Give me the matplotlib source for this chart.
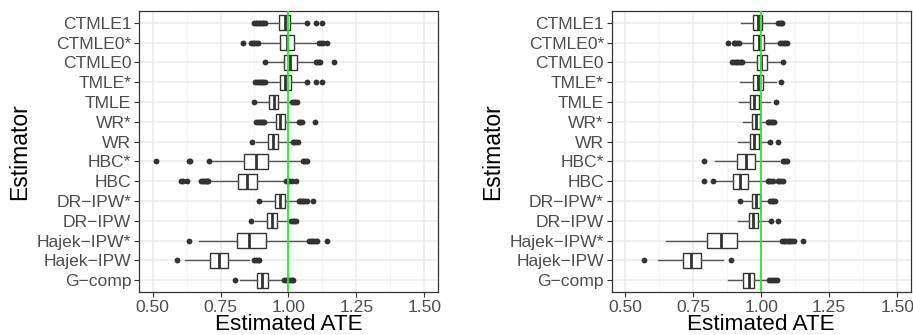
import numpy as np
import matplotlib
matplotlib.use("Agg")
import matplotlib.pyplot as plt
from matplotlib.ticker import MultipleLocator

plt.rcParams['font.family'] = ['Liberation Sans', 'DejaVu Sans']

# estimators, top to bottom as shown
estimators = ["CTMLE1", "CTMLE0*", "CTMLE0", "TMLE*", "TMLE", "WR*", "WR",
              "HBC*", "HBC", "DR\u2212IPW*", "DR\u2212IPW", "Hajek\u2212IPW*",
              "Hajek\u2212IPW", "G\u2212comp"]

# left panel: box stats
left_lo = [0.918, 0.890, 0.921, 0.918, 0.884, 0.912, 0.882,
           0.720, 0.707, 0.902, 0.878, 0.671, 0.618, 0.823]
left_q1 = [0.967, 0.970, 0.985, 0.970, 0.928, 0.954, 0.926,
           0.838, 0.813, 0.951, 0.922, 0.810, 0.711, 0.884]
left_med = [0.988, 0.996, 1.006, 0.989, 0.945, 0.970, 0.943,
            0.882, 0.849, 0.968, 0.940, 0.856, 0.743, 0.904]
left_q3 = [1.007, 1.022, 1.030, 1.009, 0.963, 0.988, 0.963,
           0.923, 0.884, 0.988, 0.959, 0.916, 0.777, 0.926]
left_hi = [1.061, 1.100, 1.098, 1.061, 1.012, 1.034, 1.012,
           1.048, 0.979, 1.033, 1.006, 1.072, 0.856, 0.982]
left_out = [
    [0.874, 0.879, 0.884, 0.89, 0.896, 0.902, 0.908, 0.913, 1.067, 1.101, 1.124],
    [0.832, 0.863, 0.869, 0.875, 0.881, 0.887, 1.113, 1.12, 1.127, 1.140],
    [0.913, 1.100, 1.106, 1.111, 1.116, 1.167],
    [0.878, 0.884, 0.89, 0.896, 0.902, 0.908, 0.915, 1.067, 1.101, 1.124],
    [0.873, 1.014, 1.019, 1.024, 1.030],
    [0.882, 0.888, 0.894, 0.9, 0.906, 0.909, 1.038, 1.044, 1.051, 1.096],
    [0.866, 1.016, 1.022, 1.028, 1.034],
    [0.511, 0.633, 0.637, 0.707, 1.052, 1.058, 1.063, 1.067],
    [0.606, 0.612, 0.628, 0.679, 0.685, 0.69, 0.695, 0.70, 0.705,
     0.991, 0.997, 1.003, 1.012, 1.027],
    [0.893, 1.037, 1.043, 1.049, 1.055, 1.061, 1.067, 1.091],
    [0.862, 1.010, 1.016, 1.022, 1.027],
    [0.633, 1.076, 1.082, 1.088, 1.094, 1.100, 1.104, 1.141],
    [0.591, 0.874, 0.882, 0.889, 0.893],
    [0.802, 0.985, 0.992, 0.999, 1.006, 1.012, 1.018],
]

# right panel
right_lo = [0.924, 0.922, 0.933, 0.922, 0.918, 0.932, 0.916,
            0.829, 0.827, 0.930, 0.915, 0.648, 0.620, 0.879]
right_q1 = [0.968, 0.971, 0.983, 0.968, 0.959, 0.966, 0.959,
            0.912, 0.898, 0.966, 0.956, 0.802, 0.713, 0.934]
right_med = [0.988, 0.991, 0.999, 0.988, 0.974, 0.979, 0.973,
             0.945, 0.922, 0.980, 0.971, 0.852, 0.743, 0.954]
right_q3 = [1.004, 1.011, 1.022, 1.005, 0.991, 0.994, 0.991,
            0.977, 0.950, 0.995, 0.988, 0.910, 0.778, 0.973]
right_hi = [1.059, 1.066, 1.071, 1.056, 1.032, 1.022, 1.028,
            1.067, 1.022, 1.028, 1.029, 1.071, 0.861, 1.022]
right_out = [
    [1.062, 1.068, 1.074, 1.077],
    [0.876, 0.900, 0.905, 0.912, 0.918, 1.070, 1.076, 1.082, 1.088, 1.095],
    [0.894, 0.900, 0.906, 0.912, 0.918, 0.924, 0.930, 1.080],
    [1.072],
    [1.055],
    [1.024, 1.030, 1.036, 1.041, 1.046],
    [1.034, 1.063],
    [0.790, 1.080, 1.085, 1.090, 1.095],
    [0.788, 0.821, 1.024, 1.030, 1.036, 1.044, 1.061, 1.067, 1.073, 1.079],
    [0.922, 1.034, 1.039, 1.044, 1.049],
    [1.037, 1.063],
    [1.077, 1.083, 1.089, 1.095, 1.101, 1.107, 1.113, 1.122, 1.152],
    [0.568, 0.888],
    [1.028, 1.035, 1.043, 1.052, 1.059],
]

dark = "#333333"
fig = plt.figure(figsize=(9.13, 3.35), dpi=100)
axes = [fig.add_axes([0.1522, 0.1284, 0.3275, 0.8388]),
        fig.add_axes([0.6700, 0.1284, 0.3275, 0.8388])]

panels = [(left_lo, left_q1, left_med, left_q3, left_hi, left_out),
          (right_lo, right_q1, right_med, right_q3, right_hi, right_out)]

n = len(estimators)
pos = np.arange(n, 0, -1)

for ax, (lo, q1, med, q3, hi, out) in zip(axes, panels):
    stats = []
    for i in range(n):
        stats.append(dict(whislo=lo[i], q1=q1[i], med=med[i], q3=q3[i],
                          whishi=hi[i], fliers=out[i]))
    ax.bxp(stats, positions=pos, widths=0.75, orientation="horizontal",
           patch_artist=True, showcaps=False,
           boxprops=dict(facecolor="white", edgecolor=dark, linewidth=1.0),
           medianprops=dict(color=dark, linewidth=2.0),
           whiskerprops=dict(color="#555555", linewidth=1.0),
           flierprops=dict(marker="o", markerfacecolor=dark,
                           markeredgecolor="none", markersize=4.2))
    ax.axvline(1.0, color="#22EE22", linewidth=1.3, zorder=5)

    ax.set_xlim(0.45, 1.55)
    ax.set_ylim(0.4, n + 0.6)
    ax.xaxis.set_major_locator(MultipleLocator(0.25))
    ax.xaxis.set_minor_locator(MultipleLocator(0.125))
    ax.set_xticks([0.5, 0.75, 1.0, 1.25, 1.5])
    ax.set_xticklabels(["0.50", "0.75", "1.00", "1.25", "1.50"])
    ax.set_yticks(pos)
    ax.set_yticklabels(estimators)
    ax.set_axisbelow(True)
    ax.grid(which="major", color="#EBEBEB", linewidth=1.1)
    ax.grid(which="minor", axis="x", color="#F2F2F2", linewidth=0.6)
    ax.tick_params(which="major", length=3.5, width=0.8, color=dark,
                   labelsize=12.6, labelcolor="#4D4D4D", pad=2)
    ax.tick_params(which="minor", length=0)
    for s in ax.spines.values():
        s.set_color(dark)
        s.set_linewidth(0.9)
    ax.set_xlabel("Estimated ATE", fontsize=16.2, color="black", labelpad=-0.3)
    ax.set_ylabel("Estimator", fontsize=16.5, color="black", labelpad=4)

fig.savefig("out.png", dpi=100)
